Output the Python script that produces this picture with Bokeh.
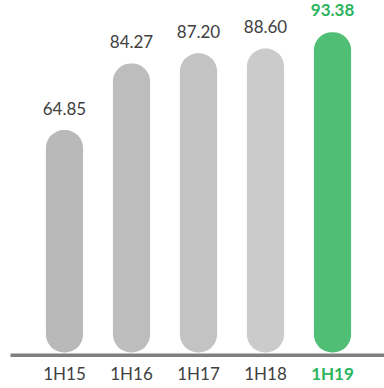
from bokeh.plotting import figure
from bokeh.models import Range1d, ColumnDataSource
from bokeh.core.properties import value
from bokeh.embed import file_html
from bokeh.resources import INLINE

categories = ["1H15", "1H16", "1H17", "1H18", "1H19"]
values = [64.85, 84.27, 87.20, 88.60, 93.38]
labels = ["64.85", "84.27", "87.20", "88.60", "93.38"]

bar_colors = ["#b9b9b9", "#bdbdbd", "#c3c3c3", "#cbcbcb", "#50bf75"]
text_colors = ["#404040", "#404040", "#404040", "#404040", "#2db45e"]
weights = ["normal", "normal", "normal", "normal", "bold"]

xs = list(range(len(categories)))
src = ColumnDataSource(dict(x=xs, top=values, lab=labels, cat=categories,
                            color=bar_colors, tcolor=text_colors, w=weights))

p = figure(width=384, height=388, output_backend="svg", toolbar_location=None,
           x_range=Range1d(-0.955, 4.776), y_range=Range1d(-10.5, 102.6),
           min_border=0, outline_line_color=None)
p.axis.visible = False
p.grid.visible = False
p.background_fill_color = "white"
p.border_fill_color = "white"

p.vbar(x="x", top="top", bottom=0, width=0.555, source=src,
       fill_color="color", line_color=None, border_radius=18)

# baseline
p.segment(x0=[-0.955 + 10 / 67], x1=[4.776], y0=[-0.8], y1=[-0.8],
          line_color="#7f7f7f", line_width=3.5)

p.text(x="x", y="top", text="lab", source=src, text_align="center",
       text_baseline="alphabetic", y_offset=-22, text_color="tcolor",
       text_font=value("Lato"), text_font_size="17px", text_font_style="w")

p.text(x="x", y=-0.8, text="cat", source=src, text_align="center",
       text_baseline="alphabetic", y_offset=18, text_color="tcolor",
       text_font=value("Lato"), text_font_size="17px", text_font_style="w")

open("out.html", "w").write(file_html(p, INLINE))
